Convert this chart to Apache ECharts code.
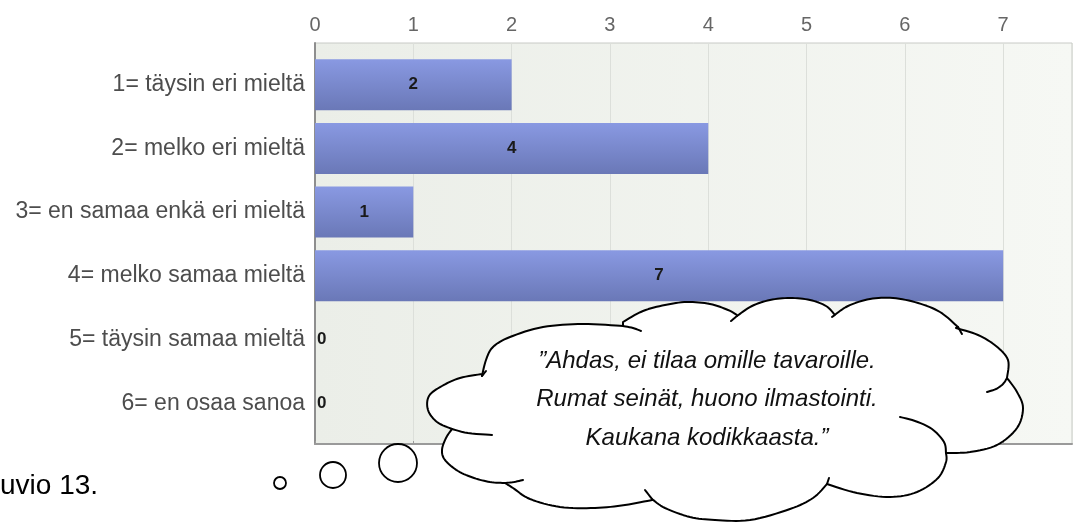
<!DOCTYPE html>
<html>
<head>
<meta charset="utf-8">
<script src="https://cdn.jsdelivr.net/npm/echarts@6/dist/echarts.min.js"></script>
<style>
html,body{margin:0;padding:0;background:#fff;}
#chart{width:1074px;height:522px;}
</style>
</head>
<body>
<div id="chart"></div>
<script>
// ---- data ----
const categories = [
  '1= täysin eri mieltä',
  '2= melko eri mieltä',
  '3= en samaa enkä eri mieltä',
  '4= melko samaa mieltä',
  '5= täysin samaa mieltä',
  '6= en osaa sanoa'
];
const counts = [2, 4, 1, 7, 0, 0];
const axisMin = 0;
const axisMax = 7.7;
const axisInterval = 1;
const bubbleLines = [
  '”Ahdas, ei tilaa omille tavaroille.',
  'Rumat seinät, huono ilmastointi.',
  'Kaukana kodikkaasta.”'
];
const captionText = 'uvio 13.';

// ---- thought-bubble outline (decoration) ----
const FONT = "'Liberation Sans', Arial, sans-serif";
const lobes = [
  [[452,429],[437,422],[428,410],[429,396],[442,386],[460,378],[482,374]],
  [[482,376],[486,360],[493,347],[510,337],[543,327],[583,324],[623,326]],
  [[623,322],[643,311],[665,305],[687,302],[710,304],[728,310],[737,315]],
  [[737,316],[752,306],[770,300],[790,298],[810,300],[826,306],[835,315]],
  [[832,317],[848,306],[870,299],[893,298],[918,303],[940,312],[958,327]],
  [[956,328],[978,335],[996,346],[1008,360],[1007,378]],
  [[1007,378],[1017,392],[1023,408],[1017,428],[997,445],[970,452],[947,453]],
  [[946,453],[946,462],[938,478],[917,492],[890,497],[857,493],[827,484]],
  [[827,484],[813,498],[790,509],[750,520],[715,520],[690,517],[665,508],[652,499]],
  [[652,500],[625,505],[595,508],[560,507],[530,499],[513,488],[505,483]],
  [[505,483],[490,482],[474,478],[458,471],[445,460],[442,450],[446,438],[452,429]]
];
const hookLines = [
  [[452,429],[468,433],[492,435]],
  [[623,326],[633,328],[641,331]],
  [[737,316],[731,321]],
  [[958,327],[962,334]],
  [[1007,378],[1003,384],[996,389],[987,392]],
  [[946,453],[944,442],[932,429],[915,421],[900,417]],
  [[652,499],[645,490]],
  [[505,483],[514,482],[523,480]],
  [[827,484],[829,478]],
  [[482,376],[486,371]]
];

function smooth(pts, seg) {
  const out = [];
  const n = pts.length;
  const P = i => pts[Math.max(0, Math.min(n - 1, i))];
  for (let i = 0; i < n - 1; i++) {
    const p0 = P(i - 1), p1 = P(i), p2 = P(i + 1), p3 = P(i + 2);
    for (let s = 0; s < seg; s++) {
      const t = s / seg, t2 = t * t, t3 = t2 * t;
      const f = k => 0.5 * ((2 * p1[k]) + (-p0[k] + p2[k]) * t +
        (2 * p0[k] - 5 * p1[k] + 4 * p2[k] - p3[k]) * t2 +
        (-p0[k] + 3 * p1[k] - 3 * p2[k] + p3[k]) * t3);
      out.push([f(0), f(1)]);
    }
  }
  out.push(pts[n - 1]);
  return out;
}

const cloudPts = [];
lobes.forEach(l => cloudPts.push(...smooth(l, 8)));

const graphics = [
  {
    type: 'polygon', z: 100,
    shape: {points: cloudPts},
    style: {fill: '#ffffff', stroke: '#000', lineWidth: 2, lineJoin: 'round'}
  }
];
hookLines.forEach(hk => graphics.push({
  type: 'polyline', z: 101,
  shape: {points: smooth(hk, 6)},
  style: {stroke: '#000', lineWidth: 2, fill: null, lineCap: 'round'}
}));
[[280, 483, 6], [333, 475, 13], [398, 463, 19]].forEach(c => graphics.push({
  type: 'circle', z: 100,
  shape: {cx: c[0], cy: c[1], r: c[2]},
  style: {fill: '#fff', stroke: '#000', lineWidth: 1.8}
}));
const lineY = [361, 399.5, 438];
bubbleLines.forEach((t, i) => graphics.push({
  type: 'text', z: 102, x: 707, y: lineY[i],
  style: {text: t, font: 'italic 24px ' + FONT, fill: '#111', align: 'center', verticalAlign: 'middle'}
}));
graphics.push({
  type: 'text', z: 102, x: 0, y: 486,
  style: {text: captionText, font: '28px ' + FONT, fill: '#000', align: 'left', verticalAlign: 'middle'}
});

const chart = echarts.init(document.getElementById('chart'), null, {renderer: 'canvas'});
const option = {
  animation: false,
  backgroundColor: '#ffffff',
  grid: [
    {
      left: 315, top: 43, width: 757, height: 401, show: true,
      backgroundColor: {type: 'linear', x: 0, y: 0, x2: 1, y2: 0,
        colorStops: [{offset: 0, color: '#ebeee8'}, {offset: 1, color: '#f6f8f4'}]},
      borderColor: '#c8cac6', borderWidth: 1
    },
    {left: 315, top: 52.85, width: 757, height: 382.2}
  ],
  xAxis: [
    {
      gridIndex: 0, type: 'value', position: 'top',
      min: axisMin, max: axisMax, interval: axisInterval,
      axisLine: {show: true, lineStyle: {color: '#9a9a9a', width: 2}},
      axisTick: {show: true, length: 3, lineStyle: {color: '#9a9a9a'}},
      axisLabel: {
        show: true, color: '#666', fontSize: 20, fontFamily: FONT, margin: 8,
        showMaxLabel: false,
        formatter: v => (Math.abs(v - Math.round(v)) < 1e-9 ? String(Math.round(v)) : '')
      },
      splitLine: {show: true, lineStyle: {color: '#dcdfda', width: 1}}
    },
    {
      gridIndex: 1, type: 'value', min: axisMin, max: axisMax, interval: axisInterval,
      show: false
    }
  ],
  yAxis: [
    {
      gridIndex: 0, type: 'value', min: 0, max: 1,
      axisLine: {show: true, lineStyle: {color: '#8e8e8e', width: 2}},
      axisTick: {show: false}, axisLabel: {show: false}, splitLine: {show: false}
    },
    {
      gridIndex: 1, type: 'category', data: categories, inverse: true,
      axisLine: {show: false}, axisTick: {show: false}, splitLine: {show: false},
      axisLabel: {color: '#4d4d4d', fontSize: 23, fontFamily: FONT, margin: 10}
    }
  ],
  series: [{
    type: 'bar',
    xAxisIndex: 1, yAxisIndex: 1,
    barWidth: 51,
    data: counts.map(v => ({
      value: v,
      label: v === 0
        ? {show: true, position: 'right', distance: 2}
        : {show: true, position: 'inside'}
    })),
    itemStyle: {
      color: {type: 'linear', x: 0, y: 0, x2: 0, y2: 1,
        colorStops: [{offset: 0, color: '#8999e2'}, {offset: 1, color: '#6a78b7'}]}
    },
    label: {color: '#1a1a1a', fontSize: 17, fontWeight: 'bold', fontFamily: FONT}
  }],
  graphic: graphics
};
chart.setOption(option);
</script>
</body>
</html>
